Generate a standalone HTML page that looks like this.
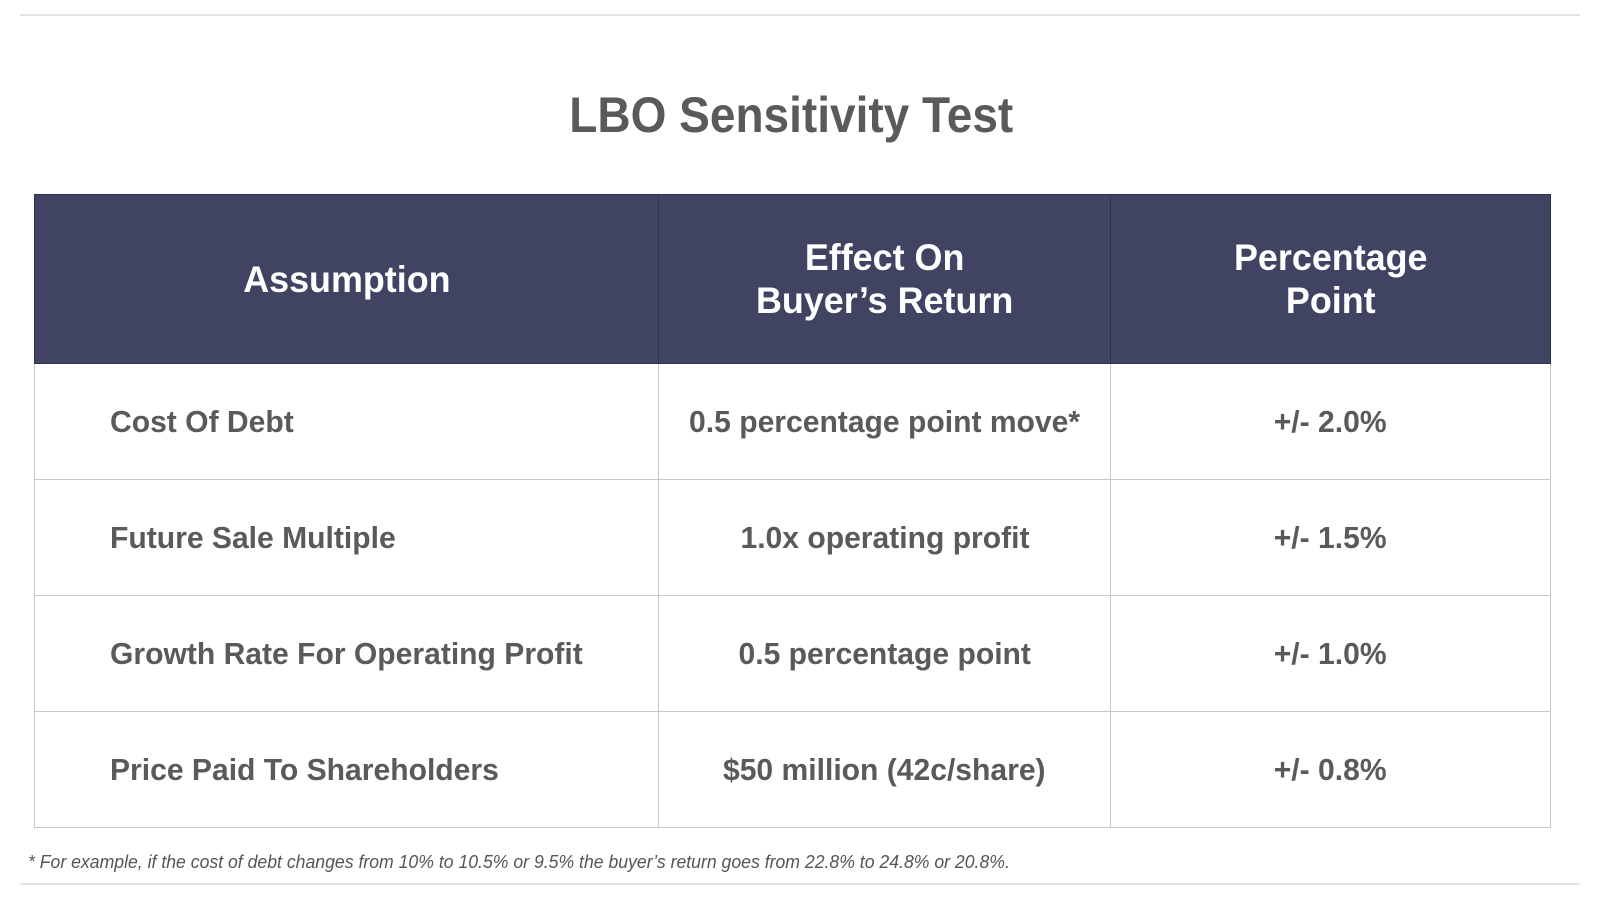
<!DOCTYPE html>
<html><head><meta charset="utf-8"><style>
body{margin:0;width:1600px;height:900px;background:#fff;position:relative;font-family:"Liberation Sans",sans-serif;overflow:hidden}
.hl{position:absolute;left:20px;width:1560px;height:2px;background:#e2e2e2}
.title{position:absolute;left:0;width:1582px;top:86px;text-align:center;font-size:50px;font-weight:bold;color:#5a5a5a}
.sx{display:inline-block;transform:scaleX(0.92);white-space:nowrap}
table{position:absolute;left:34px;top:194px;width:1516px;border-collapse:collapse;table-layout:fixed}
th{background:#404462;color:#fff;font-size:37px;font-weight:bold;height:168px;border:1px solid #2f3350;line-height:43px;padding:0}
th .sx,td .sx{transform:scaleX(0.97)}
td{height:115px;border:1px solid #c8c8c8;font-size:31px;font-weight:bold;color:#5a5a5a;text-align:center;padding:0}
td.l{text-align:left;padding-left:75px}
td.l .sx{transform-origin:left center}
.foot{position:absolute;left:28px;top:852px;font-size:18px;font-style:italic;color:#555}
.foot .sx{transform-origin:left center;transform:scaleX(0.98)}
</style></head><body>
<div class="hl" style="top:14px"></div>
<div class="title"><span class="sx">LBO Sensitivity Test</span></div>
<table>
<colgroup><col style="width:624px"><col style="width:452px"><col style="width:440px"></colgroup>
<tr>
<th><span class="sx">Assumption</span></th>
<th><span class="sx">Effect On<br>Buyer’s Return</span></th>
<th><span class="sx">Percentage<br>Point</span></th></tr>
<tr><td class="l"><span class="sx">Cost Of Debt</span></td><td><span class="sx">0.5 percentage point move*</span></td><td><span class="sx">+/- 2.0%</span></td></tr>
<tr><td class="l"><span class="sx">Future Sale Multiple</span></td><td><span class="sx">1.0x operating profit</span></td><td><span class="sx">+/- 1.5%</span></td></tr>
<tr><td class="l"><span class="sx">Growth Rate For Operating Profit</span></td><td><span class="sx">0.5 percentage point</span></td><td><span class="sx">+/- 1.0%</span></td></tr>
<tr><td class="l"><span class="sx">Price Paid To Shareholders</span></td><td><span class="sx">$50 million (42c/share)</span></td><td><span class="sx">+/- 0.8%</span></td></tr>
</table>
<div class="foot"><span class="sx">* For example, if the cost of debt changes from 10% to 10.5% or 9.5% the buyer’s return goes from 22.8% to 24.8% or 20.8%.</span></div>
<div class="hl" style="top:883px"></div>
</body></html>
